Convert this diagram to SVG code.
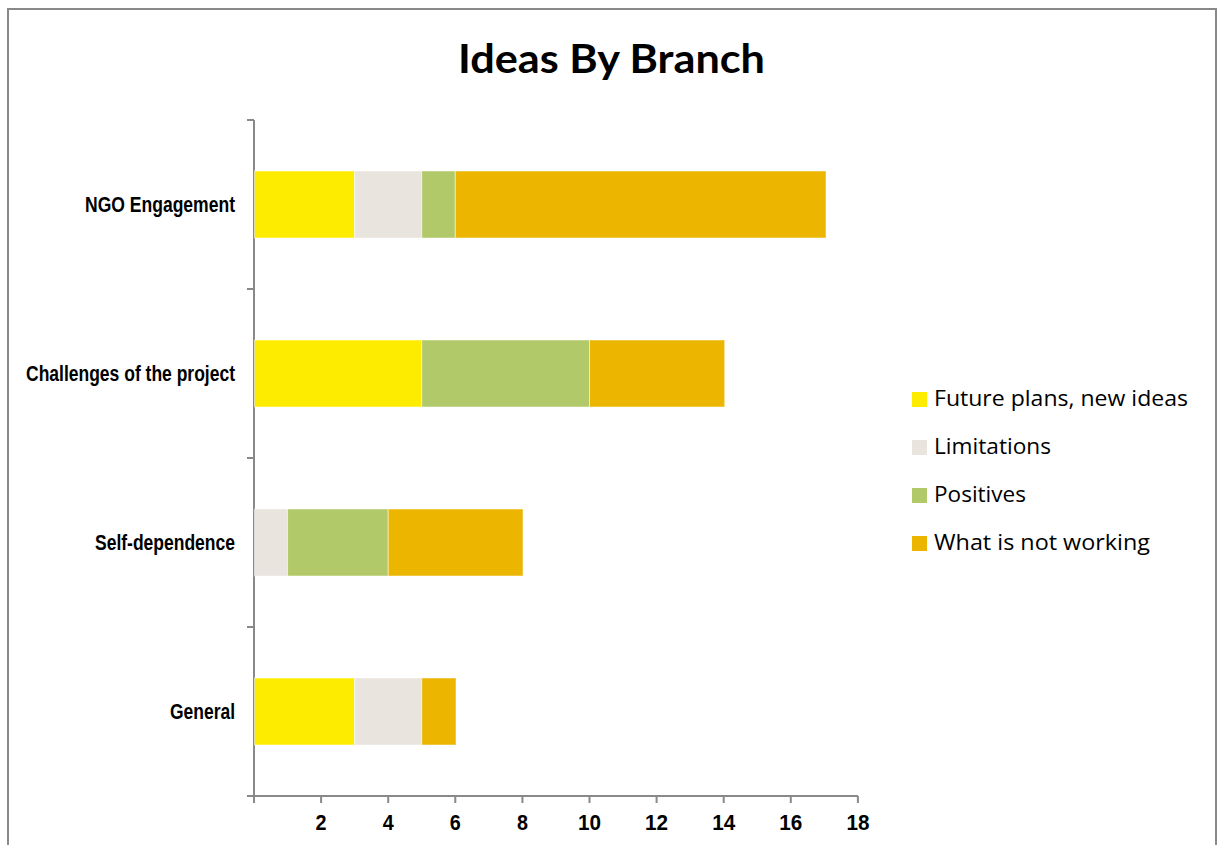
<svg xmlns="http://www.w3.org/2000/svg" width="1225" height="845" viewBox="0 0 1225 845">
<style>
.frame{fill:#fff;stroke:#898989;stroke-width:2}
.axis{stroke:#898989;stroke-width:2;fill:none}
.cat{font-family:"Liberation Sans Narrow","Liberation Sans",Arial,sans-serif;font-weight:bold;font-size:22px;fill:#000;text-anchor:end}
.tick{font-family:"Liberation Sans Narrow","Liberation Sans",Arial,sans-serif;font-weight:bold;font-size:22px;fill:#000;text-anchor:middle}
.title{font-family:Lato,"Open Sans","Liberation Sans",sans-serif;font-weight:bold;font-size:40px;fill:#000}
.leg{font-family:"Open Sans",Lato,"Liberation Sans",sans-serif;font-size:22px;fill:#000}
.fut{fill:#FEEC00}
.lim{fill:#E9E5DE}
.pos{fill:#B2C96A}
.win{fill:#EBB500}
.bar rect{stroke:#fff;stroke-opacity:0.5;stroke-width:1}
</style>
<rect class="frame" x="8" y="9" width="1208" height="850"/>
<text class="title" x="458" y="73" textLength="307" lengthAdjust="spacingAndGlyphs">Ideas By Branch</text>

<g id="axes" class="axis">
<path d="M254,120 V796 H858"/>
<path d="M247,120 H254 M247,289 H254 M247,458 H254 M247,627 H254 M247,796 H254"/>
<path d="M254,796 V803 M321.1,796 V803 M388.2,796 V803 M455.3,796 V803 M522.4,796 V803 M589.5,796 V803 M656.6,796 V803 M723.7,796 V803 M790.8,796 V803 M857.9,796 V803"/>
</g>
<g id="tick-labels">
<text class="tick" x="321.1" y="830" textLength="11" lengthAdjust="spacingAndGlyphs">2</text>
<text class="tick" x="388.2" y="830" textLength="11" lengthAdjust="spacingAndGlyphs">4</text>
<text class="tick" x="455.3" y="830" textLength="11" lengthAdjust="spacingAndGlyphs">6</text>
<text class="tick" x="522.4" y="830" textLength="11" lengthAdjust="spacingAndGlyphs">8</text>
<text class="tick" x="589.5" y="830" textLength="23" lengthAdjust="spacingAndGlyphs">10</text>
<text class="tick" x="656.6" y="830" textLength="23" lengthAdjust="spacingAndGlyphs">12</text>
<text class="tick" x="723.7" y="830" textLength="23" lengthAdjust="spacingAndGlyphs">14</text>
<text class="tick" x="790.8" y="830" textLength="23" lengthAdjust="spacingAndGlyphs">16</text>
<text class="tick" x="857.9" y="830" textLength="23" lengthAdjust="spacingAndGlyphs">18</text>
</g>

<g id="ngo-engagement" class="bar">
<text class="cat" x="235" y="212" textLength="150" lengthAdjust="spacingAndGlyphs">NGO Engagement</text>
<rect class="fut" x="254.5" y="171" width="100.15" height="67"/>
<rect class="lim" x="354.65" y="171" width="67.1" height="67"/>
<rect class="pos" x="421.75" y="171" width="33.55" height="67"/>
<rect class="win" x="455.3" y="171" width="370.7" height="67"/>
</g>
<g id="challenges" class="bar">
<text class="cat" x="235" y="381" textLength="209" lengthAdjust="spacingAndGlyphs">Challenges of the project</text>
<rect class="fut" x="254.5" y="340" width="167.25" height="67"/>
<rect class="pos" x="421.75" y="340" width="167.75" height="67"/>
<rect class="win" x="589.5" y="340" width="135.2" height="67"/>
</g>
<g id="self-dependence" class="bar">
<text class="cat" x="235" y="550" textLength="140" lengthAdjust="spacingAndGlyphs">Self-dependence</text>
<rect class="lim" x="254.5" y="509" width="33.05" height="67"/>
<rect class="pos" x="287.55" y="509" width="100.65" height="67"/>
<rect class="win" x="388.2" y="509" width="134.8" height="67"/>
</g>
<g id="general" class="bar">
<text class="cat" x="235" y="719" textLength="65" lengthAdjust="spacingAndGlyphs">General</text>
<rect class="fut" x="254.5" y="678" width="100.15" height="67"/>
<rect class="lim" x="354.65" y="678" width="67.1" height="67"/>
<rect class="win" x="421.75" y="678" width="34.25" height="67"/>
</g>

<g id="legend">
<rect class="fut" x="912" y="392" width="15" height="15"/>
<text class="leg" x="934" y="406" textLength="254" lengthAdjust="spacingAndGlyphs">Future plans, new ideas</text>
<rect class="lim" x="912" y="440" width="15" height="15"/>
<text class="leg" x="934" y="454" textLength="117" lengthAdjust="spacingAndGlyphs">Limitations</text>
<rect class="pos" x="912" y="488" width="15" height="15"/>
<text class="leg" x="934" y="502" textLength="92" lengthAdjust="spacingAndGlyphs">Positives</text>
<rect class="win" x="912" y="536" width="15" height="15"/>
<text class="leg" x="934" y="550" textLength="216" lengthAdjust="spacingAndGlyphs">What is not working</text>
</g>
</svg>
